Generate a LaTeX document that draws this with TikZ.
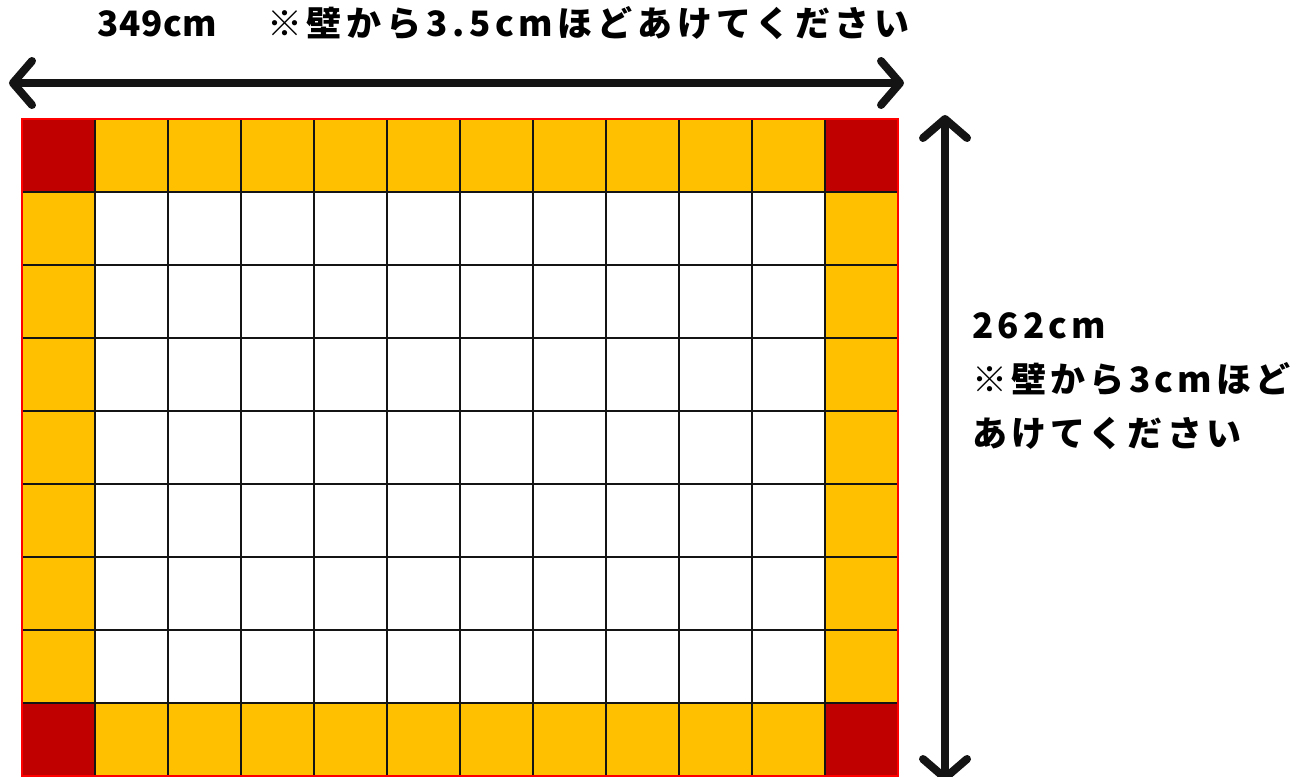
\documentclass[tikz,border=0pt]{standalone}
\usepackage{fontspec}
\newfontfamily\jpfont[LetterSpace=12]{Noto Sans CJK JP}
\newfontfamily\jptop[LetterSpace=13.5]{Noto Sans CJK JP}
\newfontfamily\jpnarrow[LetterSpace=2]{Noto Sans CJK JP}
\usetikzlibrary{arrows.meta}

\definecolor{cornerred}{HTML}{C00000}
\definecolor{sideamber}{HTML}{FFC000}
\definecolor{inkblack}{HTML}{141414}

\tikzset{
    dimarrow/.style={inkblack, line width=8pt, line cap=round,
        {Straight Barb[length=19pt,width=44pt,round]}-{Straight Barb[length=19pt,width=44pt,round]}},
    dimlabel/.style={font=\jpfont\bfseries\fontsize{35}{54}\selectfont, inner sep=0pt},
    cellline/.style={inkblack, line width=1.4pt}
}

\begin{document}
\begin{tikzpicture}[x=1pt, y=-1pt]
    \useasboundingbox (0,0) rectangle (1303,776);

    % Mat: borda e cantos
    \fill[sideamber] (22,119) rectangle (898,776);
    \fill[white] (95,192) rectangle (825,703);
    \foreach \cx/\cy in {22/119, 825/119, 22/703, 825/703} {
        \fill[cornerred] (\cx,\cy) rectangle ++(73,73);
    }

    % Linhas da grade
    \foreach \i in {1,...,11} {
        \draw[cellline] (22+73*\i,119) -- (22+73*\i,776);
    }
    \foreach \j in {1,...,8} {
        \draw[cellline] (22,119+73*\j) -- (898,119+73*\j);
    }
    \draw[red, line width=2pt] (22,119) rectangle (898,776);

    % Medidas
    \coordinate (wl) at (9,83);
    \coordinate (wr) at (904,83);
    \coordinate (ht) at (945,115);
    \coordinate (hb) at (945,782);
    \draw[dimarrow] (wl) -- (wr);
    \draw[dimarrow] (ht) -- (hb);

    \node[dimlabel, anchor=base west] (width) at (97,37)
        {{\jpnarrow\bfseries 349cm}\hspace{50pt}{\jptop\bfseries ※壁から3.5cmほどあけてください}};
    \node[dimlabel, anchor=base west] (height1) at (972,338) {262cm};
    \node[dimlabel, anchor=base west] (height2) at (972,392) {※壁から3cmほど};
    \node[dimlabel, anchor=base west] (height3) at (972,446) {あけてください};
\end{tikzpicture}
\end{document}
